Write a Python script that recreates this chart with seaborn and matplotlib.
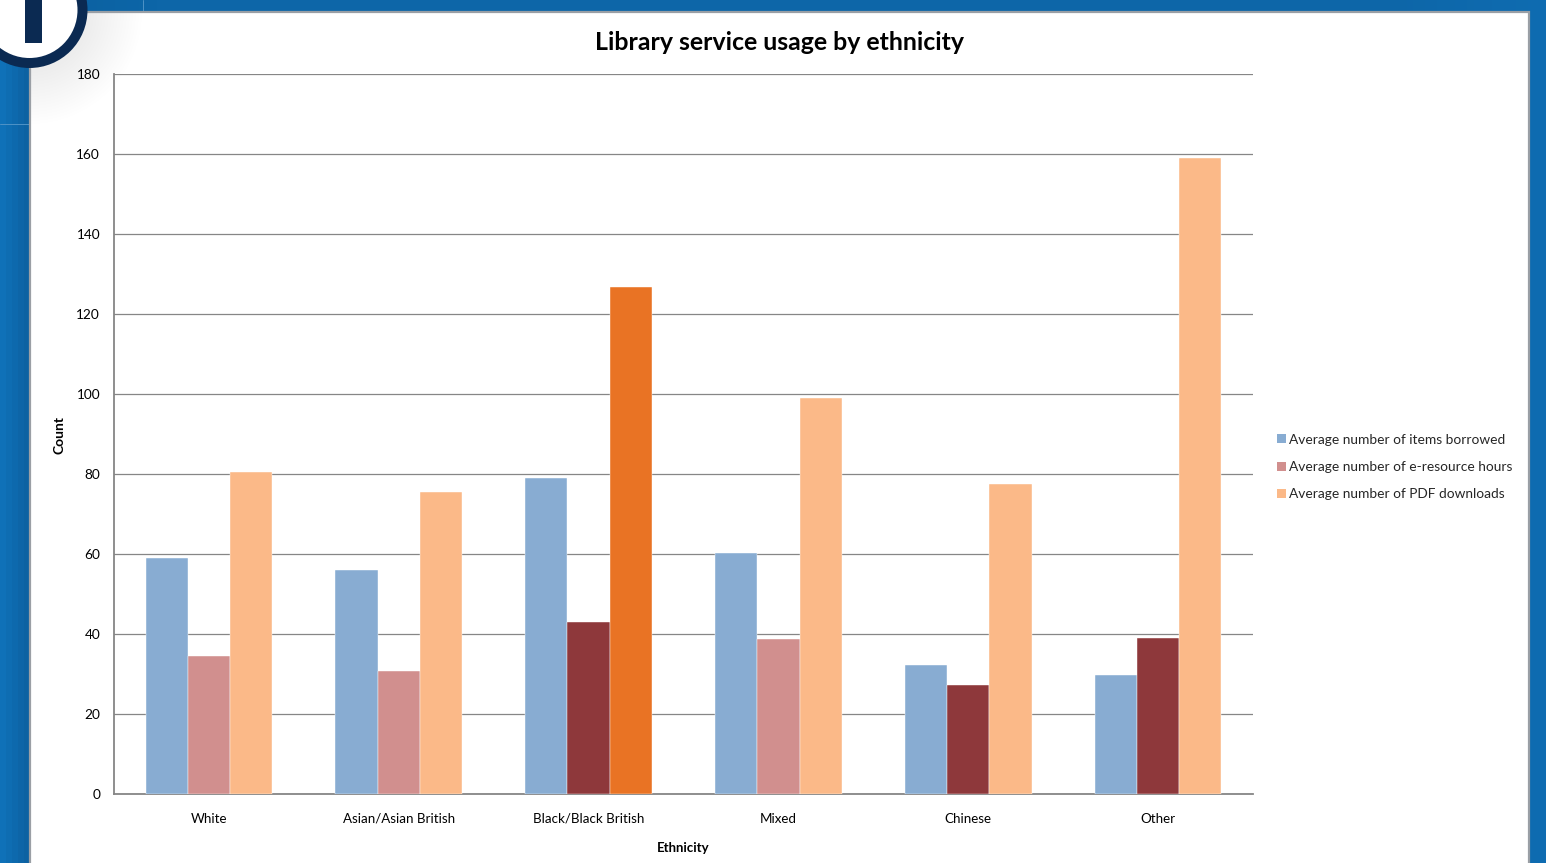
import numpy as np
import pandas as pd
import matplotlib
matplotlib.use("Agg")
import matplotlib.pyplot as plt
from matplotlib.colors import LinearSegmentedColormap
from matplotlib.patches import Circle, Rectangle, Patch
import seaborn as sns

categories = ["White", "Asian/Asian British", "Black/Black British", "Mixed", "Chinese", "Other"]
items_borrowed = [59.1, 56.1, 79.1, 60.3, 32.2, 29.8]
eresource_hours = [34.5, 30.8, 43.1, 38.7, 27.3, 39.1]
pdf_downloads = [80.4, 75.4, 126.8, 99.1, 77.5, 159.1]
series_names = ["Average number of items borrowed", "Average number of e-resource hours",
                "Average number of PDF downloads"]
yticks = list(range(0, 181, 20))
# Categories whose bars are emphasised with a darker colour, per series
dark_hours = ["Black/Black British", "Chinese", "Other"]
dark_pdf = ["Black/Black British"]

BLUE, PINK, PEACH = "#88ACD2", "#D18F8E", "#FBB988"
DARK_RED, DARK_ORANGE = "#8E383B", "#E97324"
GREY = "#868686"

W, H = 1546, 863
sns.set_theme(style="white")
plt.rcParams["font.family"] = ["Lato", "DejaVu Sans"]
fig = plt.figure(figsize=(W / 100, H / 100), dpi=100)

# Slide backdrop, in pixel coordinates
bg = fig.add_axes([0, 0, 1, 1], zorder=0)
grad = np.linspace(0, 1, 512).reshape(1, -1)
cm = LinearSegmentedColormap.from_list(
    "b", [(0, "#0F71B8"), (0.018, "#0C609F"), (0.1, "#0D66A8"), (0.9, "#0D66A8"), (1, "#0F6CB1")])
bg.imshow(grad, extent=[0, W, H, 0], aspect="auto", cmap=cm, zorder=0)
bg.set_xlim(0, W)
bg.set_ylim(H, 0)
bg.axis("off")
bg.plot([0, 30], [124, 124], color="#4F93C6", lw=0.7, zorder=1)
bg.plot([143, 143], [0, 12], color="#4F93C6", lw=0.7, zorder=1)
bg.add_patch(Rectangle((30, 12), 1498.5, H, fc="white", ec="#9A9FA5", lw=1.6, zorder=1))
clip = Rectangle((31, 13), 1497, H, transform=bg.transData)
for r in np.arange(112, 58, -3):
    c = Circle((30, 12), r, fc="black", ec="none", alpha=0.0045, zorder=2)
    bg.add_patch(c)
    c.set_clip_path(clip)
bg.add_patch(Circle((29.5, 10), 58, fc="#0B2A52", ec="none", zorder=3))
bg.add_patch(Circle((29.5, 10), 48, fc="white", ec="none", zorder=4))
bg.add_patch(Rectangle((25, -2), 17, 45, fc="#0B2A52", ec="none", zorder=5))

# Chart
ax = fig.add_axes([114 / W, 1 - 794 / H, (1253 - 114) / W, (794 - 74) / H], zorder=2)
ax.patch.set_alpha(0)
df = pd.DataFrame({
    "Ethnicity": categories * 3,
    "Series": np.repeat(series_names, len(categories)),
    "Count": items_borrowed + eresource_hours + pdf_downloads,
})
sns.barplot(data=df, x="Ethnicity", y="Count", hue="Series", hue_order=series_names,
            order=categories, palette=[BLUE, PINK, PEACH], width=0.667, gap=0,
            saturation=1, legend=False, ax=ax, zorder=3)

for bars, dark, colour in ((ax.containers[1], dark_hours, DARK_RED),
                           (ax.containers[2], dark_pdf, DARK_ORANGE)):
    for cat, bar in zip(categories, bars):
        if cat in dark:
            bar.set_facecolor(colour)
for bars in ax.containers:
    for bar in bars:
        bar.set_edgecolor("white")
        bar.set_linewidth(0.3)

ax.set_ylim(0, 180)
ax.set_yticks(yticks)
ax.set_xlim(-0.5, 5.5)
ax.grid(axis="y", color=GREY, lw=0.9)
ax.set_axisbelow(True)
for s in ("top", "right"):
    ax.spines[s].set_visible(False)
for s in ("left", "bottom"):
    ax.spines[s].set_color(GREY)
    ax.spines[s].set_linewidth(1.3)
ax.tick_params(axis="both", length=0, labelcolor="black")
ax.tick_params(axis="x", pad=13.5, labelsize=9.6)
ax.tick_params(axis="y", pad=10, labelsize=9.8)
ax.set_xlabel("")
ax.set_ylabel("")

fig.text(779 / W, 1 - 43 / H, "Library service usage by ethnicity", ha="center", va="center",
         fontsize=17.9, fontweight="bold", color="black", zorder=5)
fig.text(683.5 / W, 1 - 847.5 / H, "Ethnicity", ha="center", va="center",
         fontsize=9.5, fontweight="bold", color="black", zorder=5)
fig.text(60 / W, 1 - 435 / H, "Count", ha="center", va="center", rotation=90,
         fontsize=10, fontweight="bold", color="black", zorder=5)

handles = [Patch(fc=c, ec="none") for c in (BLUE, PINK, PEACH)]
fig.legend(handles, series_names, loc="center left", bbox_to_anchor=(1277 / W, 1 - 467 / H),
           frameon=False, fontsize=9.9, handlelength=0.65, handleheight=0.65,
           handletextpad=0.2, labelspacing=1.12, borderaxespad=0, borderpad=0)

fig.savefig("out.png", dpi=100)
